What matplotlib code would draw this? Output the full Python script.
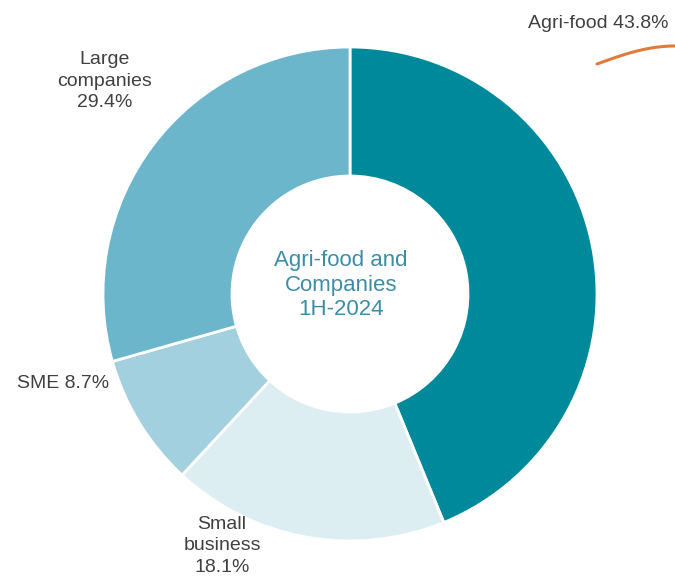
import numpy as np
import matplotlib.pyplot as plt

# segments, clockwise from 12 o'clock
segments = ['Agri-food', 'Small business', 'SME', 'Large companies']
shares = [43.8, 18.1, 8.7, 29.4]
colors = ['#00899A', '#DDEEF3', '#A3D0DF', '#6CB6CC']
labels = ['Agri-food 43.8%', 'Small\nbusiness\n18.1%', 'SME 8.7%', 'Large\ncompanies\n29.4%']
center_text = 'Agri-food and\nCompanies\n1H-2024'

plt.rcParams['font.family'] = ['Liberation Sans', 'DejaVu Sans']

W, H = 675, 580
fig = plt.figure(figsize=(W / 100, H / 100), dpi=100)
ax = fig.add_axes([0, 0, 1, 1])

cx, cy = 350, H - 294
R = 247
ax.pie(shares, colors=colors, startangle=90, counterclock=False,
       center=(cx, cy), radius=R, frame=True,
       wedgeprops=dict(width=R - 118, edgecolor='white', linewidth=2))
ax.set_xlim(0, W)
ax.set_ylim(0, H)
ax.set_aspect('equal')
ax.axis('off')

ax.text(341, H - 285, center_text, ha='center', va='center', fontsize=16,
        color='#3E8DA6', linespacing=1.2)

txt = dict(color='#404040', fontsize=14, linespacing=1.35)
ax.text(669, H - 23, labels[0], ha='right', va='center', **txt)
ax.text(222, H - 546, labels[1], ha='center', va='center', **txt)
ax.text(63, H - 383, labels[2], ha='center', va='center', **txt)
ax.text(105, H - 81, labels[3], ha='center', va='center', **txt)

# orange swoosh near the top-right label
t = np.linspace(0, 1, 50)
sx = 597 + 78 * t
sy = H - (64 - 18 * np.sin(t * np.pi / 2))
ax.plot(sx, sy, color='#E07B39', lw=2.2, solid_capstyle='round')

fig.savefig('out.png', dpi=100, facecolor='white')
